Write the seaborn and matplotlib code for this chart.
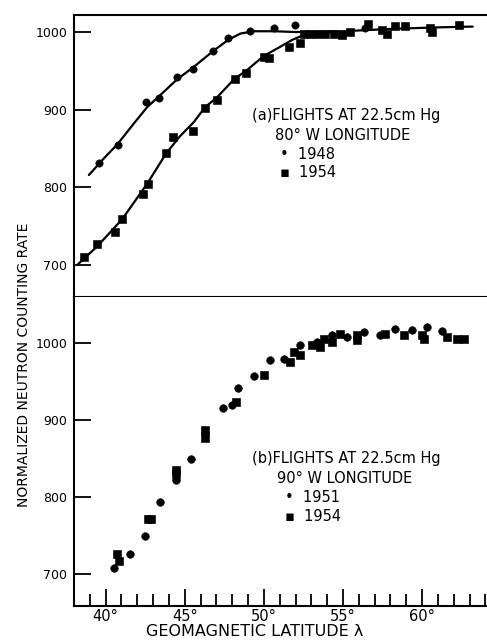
import matplotlib
matplotlib.use("Agg")
import matplotlib.pyplot as plt
import seaborn as sns
from matplotlib.ticker import MultipleLocator

# (a) 80 W longitude -- 1948 circles, 1954 squares
lat_48 = [39.56, 40.76, 42.55, 43.39, 44.51, 45.52, 46.76, 47.75, 49.14, 50.67, 51.98, 56.40]
rate_48 = [832, 854, 910, 915, 942, 952, 975, 992, 1001, 1005, 1009, 1005]

lat_54a = [38.63, 39.46, 40.61, 41.04, 42.34, 42.65, 43.83, 44.26, 45.50, 46.25, 47.04,
           48.15, 48.87, 49.98, 50.34, 51.56, 52.30, 52.51, 52.93, 53.35, 53.88, 54.40,
           54.93, 55.46, 56.60, 57.45, 57.77, 58.30, 58.93, 60.51, 60.62, 62.30]
rate_54a = [711, 727, 742, 759, 791, 804, 844, 865, 872, 902, 912,
            940, 947, 968, 967, 981, 986, 998, 998, 998, 998, 998,
            996, 1000, 1010, 1003, 998, 1008, 1008, 1005, 1000, 1009]

# hand-drawn fit curves
curve48_lat = [38.94, 39.87, 40.76, 41.77, 42.61, 43.46, 44.51, 45.56, 46.76, 47.75,
               48.51, 49.35, 50.68, 52.0, 55.0, 58.0, 61.0, 63.2]
curve48_rate = [816, 837, 856, 882, 903, 919, 939, 955, 975, 990,
                998, 1001, 1001, 1000, 1001, 1004, 1006, 1007]
curve54_lat = [38.19, 39.46, 41.04, 42.63, 43.83, 44.70, 45.57, 46.27, 47.04, 48.15,
               48.87, 49.98, 51.03, 51.80, 52.50, 53.35, 54.50]
curve54_rate = [700, 724, 759, 805, 844, 866, 884, 903, 916, 940,
                950, 969, 981, 990, 996, 998, 1000]

# (b) 90 W longitude -- 1951 circles, 1954 squares
lat_51 = [40.55, 41.52, 42.51, 43.46, 44.47, 45.41, 46.30, 47.39, 48.00, 48.36, 49.35,
          50.36, 51.25, 52.30, 53.35, 54.30, 55.25, 56.30, 57.35, 58.30, 59.36, 60.30, 61.25]
rate_51 = [708, 726, 749, 793, 822, 849, 883, 915, 920, 942, 957,
           978, 980, 997, 1002, 1010, 1008, 1015, 1010, 1018, 1017, 1021, 1016]

lat_54b = [40.72, 40.87, 42.65, 42.87, 44.47, 44.47, 46.25, 46.25, 48.24, 49.98, 51.67,
           51.88, 52.30, 53.04, 53.56, 53.77, 54.30, 54.83, 55.88, 55.88, 57.67, 58.83,
           59.99, 60.09, 61.57, 62.20, 62.62]
rate_54b = [726, 716, 771, 771, 830, 835, 887, 876, 924, 958, 976,
            989, 985, 997, 995, 1006, 1002, 1012, 1004, 1010, 1012, 1010,
            1010, 1006, 1008, 1006, 1006]

y_ticks = [700, 800, 900, 1000]

sns.set_style("ticks", {"axes.edgecolor": "black", "text.color": "black",
                        "xtick.color": "black", "ytick.color": "black"})
plt.rcParams['font.family'] = ['DejaVu Sans']

fig = plt.figure(figsize=(4.87, 6.41), dpi=100)
ax_a = fig.add_axes([0.152, 0.5367, 0.848, 0.44])
ax_b = fig.add_axes([0.152, 0.0546, 0.848, 0.482])

# panel (a)
sns.lineplot(x=curve48_lat, y=curve48_rate, ax=ax_a, color='black', lw=1.6, sort=False)
sns.lineplot(x=curve54_lat, y=curve54_rate, ax=ax_a, color='black', lw=1.6, sort=False)
sns.scatterplot(x=lat_48, y=rate_48, ax=ax_a, marker='o', s=28, color='black', edgecolor='black')
sns.scatterplot(x=lat_54a, y=rate_54a, ax=ax_a, marker='s', s=28, color='black', edgecolor='black')

# panel (b)
sns.scatterplot(x=lat_51, y=rate_51, ax=ax_b, marker='o', s=30, color='black', edgecolor='black')
sns.scatterplot(x=lat_54b, y=rate_54b, ax=ax_b, marker='s', s=30, color='black', edgecolor='black')

for ax in (ax_a, ax_b):
    ax.set_xlim(38.0, 64.1)
    ax.spines['right'].set_visible(False)
    ax.spines['left'].set_linewidth(1.5)
    ax.set_yticks(y_ticks)
    ax.tick_params(axis='y', direction='in', length=12, width=1.3, color='black',
                   labelcolor='black', labelsize=9, pad=5)
    ax.set_xlabel('')
    ax.set_ylabel('')

ax_a.set_ylim(659, 1022)
ax_b.set_ylim(658, 1060)

ax_a.spines['top'].set_linewidth(1.5)
ax_a.spines['bottom'].set_linewidth(1.5)
ax_a.tick_params(axis='x', which='both', bottom=False, labelbottom=False)

ax_b.spines['top'].set_visible(False)
ax_b.spines['bottom'].set_linewidth(1.5)
ax_b.xaxis.set_major_locator(MultipleLocator(5))
ax_b.xaxis.set_minor_locator(MultipleLocator(1))
ax_b.set_xticklabels([f'{int(t)}°' for t in ax_b.get_xticks()])
ax_b.tick_params(axis='x', which='major', direction='in', length=12, width=1.3,
                 color='black', labelcolor='black', labelsize=10.5, pad=2)
ax_b.tick_params(axis='x', which='minor', direction='in', length=9, width=1.3,
                 color='black')

txt = dict(fontsize=10.5, va='center', ha='left', color='black')
ax_a.text(0.431, 0.642, '(a)FLIGHTS AT 22.5cm Hg', transform=ax_a.transAxes, **txt)
ax_a.text(0.487, 0.574, '80° W LONGITUDE', transform=ax_a.transAxes, **txt)
ax_a.text(0.499, 0.504, '•  1948', transform=ax_a.transAxes, **txt)
ax_a.text(0.499, 0.440, '▪  1954', transform=ax_a.transAxes, **txt)

ax_b.text(0.431, 0.479, '(b)FLIGHTS AT 22.5cm Hg', transform=ax_b.transAxes, **txt)
ax_b.text(0.492, 0.414, '90° W LONGITUDE', transform=ax_b.transAxes, **txt)
ax_b.text(0.511, 0.350, '•  1951', transform=ax_b.transAxes, **txt)
ax_b.text(0.511, 0.291, '▪  1954', transform=ax_b.transAxes, **txt)

fig.text(24 / 487, 1 - 365 / 641, 'NORMALIZED NEUTRON COUNTING RATE', rotation=90,
         ha='center', va='center', fontsize=10, color='black')
fig.text(255 / 487, 1 - 631 / 641, 'GEOMAGNETIC LATITUDE λ', ha='center', va='center',
         fontsize=11.5, color='black')

fig.savefig('out.png', dpi=100)
